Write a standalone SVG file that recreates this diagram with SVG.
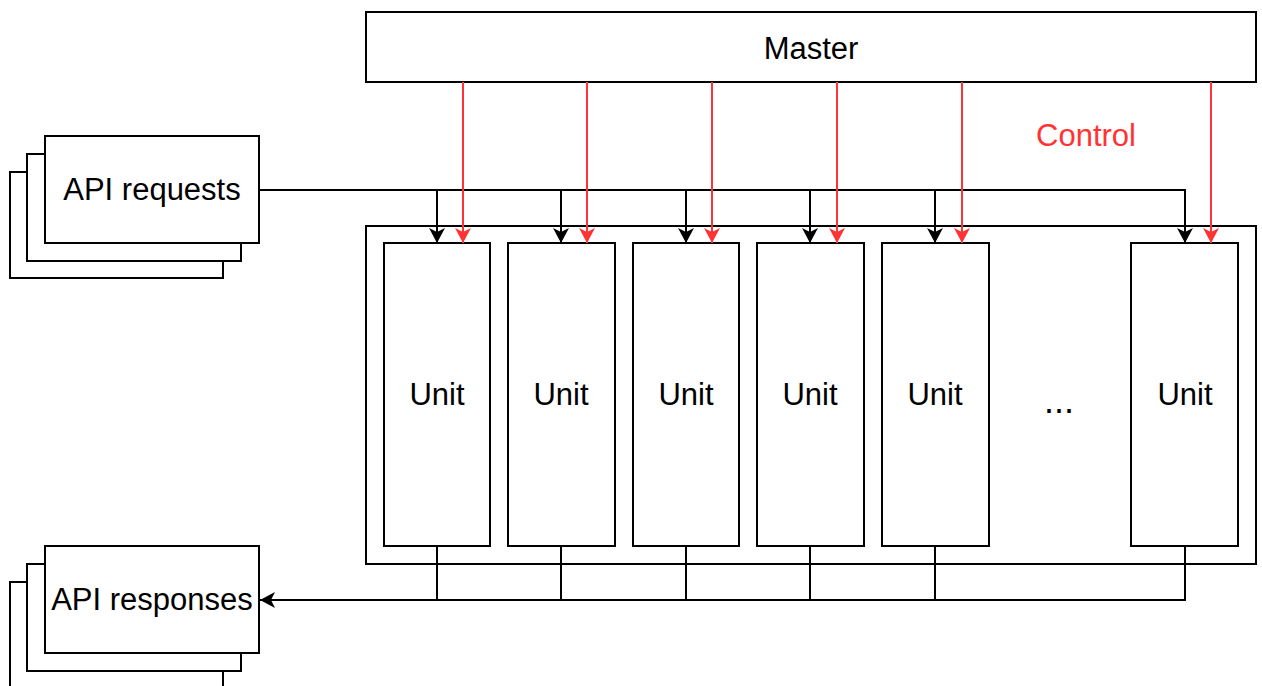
<svg xmlns="http://www.w3.org/2000/svg" width="1262" height="686" viewBox="0 0 1262 686">
  <defs>
    <style>
      .box { fill: #ffffff; stroke: #000000; stroke-width: 2; }
      .label { font-family: "Liberation Sans", Arial, sans-serif; font-size: 31px; fill: #000000; text-anchor: middle; }
      .wire { fill: none; stroke: #000000; stroke-width: 2; }
      .ctrl { fill: none; stroke: #ff3333; stroke-width: 2; }
    </style>
    <marker id="arrowBlack" viewBox="0 0 16 16" refX="15" refY="8" markerWidth="16" markerHeight="16" markerUnits="userSpaceOnUse" orient="auto">
      <path d="M0,0 L15,8 L0,16 L4,8 Z" fill="#000000"/>
    </marker>
    <marker id="arrowRed" viewBox="0 0 16 16" refX="15" refY="8" markerWidth="16" markerHeight="16" markerUnits="userSpaceOnUse" orient="auto">
      <path d="M0,0 L15,8 L0,16 L4,8 Z" fill="#ff3333"/>
    </marker>
  </defs>

  <rect width="1262" height="686" fill="#ffffff"/>

  <!-- Master -->
  <g id="master">
    <rect class="box" x="366" y="12" width="890" height="70"/>
    <text class="label" x="811" y="59">Master</text>
  </g>

  <!-- Control label -->
  <g id="control-label">
    <text class="label" x="1086" y="146" style="fill:#ff3333">Control</text>
  </g>

  <!-- API requests (stacked documents) -->
  <g id="api-requests">
    <rect class="box" x="10" y="172" width="213" height="106"/>
    <rect class="box" x="27" y="154" width="214" height="107"/>
    <rect class="box" x="45" y="136" width="214" height="107"/>
    <text class="label" x="152" y="200">API requests</text>
  </g>

  <!-- API responses (stacked documents) -->
  <g id="api-responses">
    <rect class="box" x="10" y="582" width="213" height="120"/>
    <rect class="box" x="27" y="564" width="214" height="107"/>
    <rect class="box" x="45" y="546" width="214" height="107"/>
    <text class="label" x="152" y="610">API responses</text>
  </g>

  <!-- Unit pool container -->
  <g id="pool">
    <rect class="box" x="366" y="226" width="890" height="338"/>
  </g>

  <g id="unit-1">
    <rect class="box" x="384" y="243" width="106" height="303"/>
    <text class="label" x="437" y="405">Unit</text>
  </g>
  <g id="unit-2">
    <rect class="box" x="508" y="243" width="107" height="303"/>
    <text class="label" x="561" y="405">Unit</text>
  </g>
  <g id="unit-3">
    <rect class="box" x="633" y="243" width="106" height="303"/>
    <text class="label" x="686" y="405">Unit</text>
  </g>
  <g id="unit-4">
    <rect class="box" x="757" y="243" width="107" height="303"/>
    <text class="label" x="810" y="405">Unit</text>
  </g>
  <g id="unit-5">
    <rect class="box" x="882" y="243" width="107" height="303"/>
    <text class="label" x="935" y="405">Unit</text>
  </g>
  <g id="ellipsis">
    <text class="label" x="1059" y="413" style="font-size:36px">...</text>
  </g>
  <g id="unit-6">
    <rect class="box" x="1131" y="243" width="107" height="303"/>
    <text class="label" x="1185" y="405">Unit</text>
  </g>

  <!-- Connectors -->
  <g id="connectors">
    <!-- request fan-out -->
    <path class="wire" d="M259,190 H1185 V243" marker-end="url(#arrowBlack)"/>
    <path class="wire" d="M437,190 V243" marker-end="url(#arrowBlack)"/>
    <path class="wire" d="M561,190 V243" marker-end="url(#arrowBlack)"/>
    <path class="wire" d="M686,190 V243" marker-end="url(#arrowBlack)"/>
    <path class="wire" d="M810,190 V243" marker-end="url(#arrowBlack)"/>
    <path class="wire" d="M935,190 V243" marker-end="url(#arrowBlack)"/>

    <!-- control lines from master -->
    <path class="ctrl" d="M463,82 V243" marker-end="url(#arrowRed)"/>
    <path class="ctrl" d="M587,82 V243" marker-end="url(#arrowRed)"/>
    <path class="ctrl" d="M712,82 V243" marker-end="url(#arrowRed)"/>
    <path class="ctrl" d="M837,82 V243" marker-end="url(#arrowRed)"/>
    <path class="ctrl" d="M962,82 V243" marker-end="url(#arrowRed)"/>
    <path class="ctrl" d="M1211,82 V243" marker-end="url(#arrowRed)"/>

    <!-- response fan-in -->
    <path class="wire" d="M1185,546 V600 H260" marker-end="url(#arrowBlack)"/>
    <path class="wire" d="M437,546 V600"/>
    <path class="wire" d="M561,546 V600"/>
    <path class="wire" d="M686,546 V600"/>
    <path class="wire" d="M810,546 V600"/>
    <path class="wire" d="M935,546 V600"/>
  </g>
</svg>
